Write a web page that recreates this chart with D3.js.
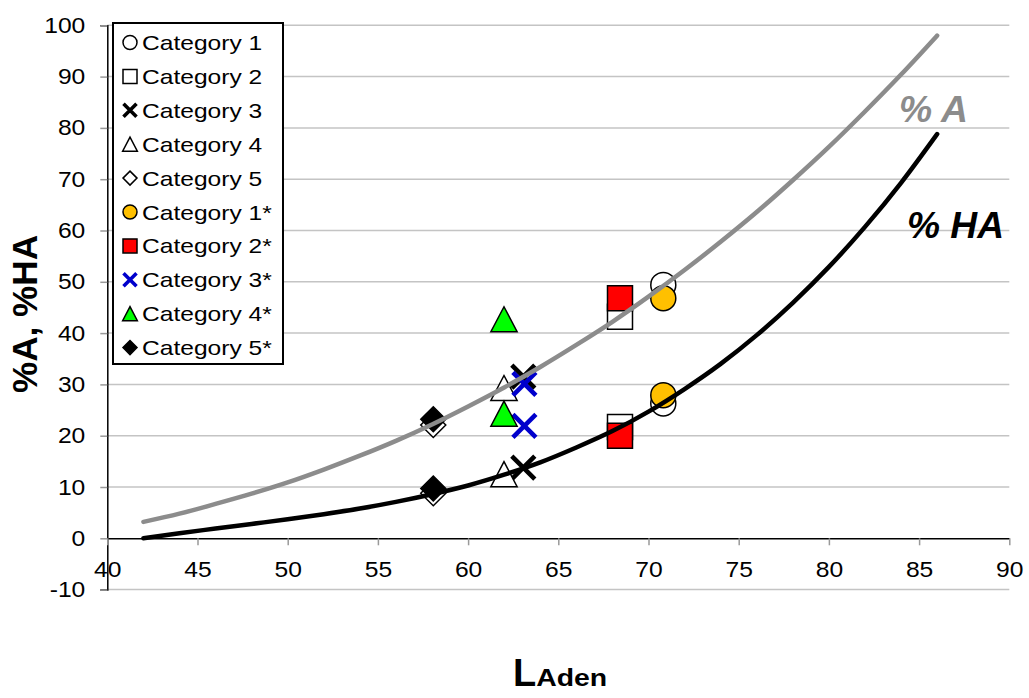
<!DOCTYPE html>
<html>
<head>
<meta charset="utf-8">
<script src="https://cdn.jsdelivr.net/npm/d3@7"></script>
<style>
  body { margin: 0; background: #fff; }
  text { font-family: Arial, "Liberation Sans", sans-serif; }
</style>
</head>
<body>
<div id="chart"></div>
<script>
// categories and their measured points (x = L, a = upper point, ha = lower point)
const categories = ["Category 1", "Category 2", "Category 3", "Category 4", "Category 5",
  "Category 1*", "Category 2*", "Category 3*", "Category 4*", "Category 5*"];
const pointL  = [70.82, 68.42, 63.06, 61.99, 58.07, 70.82, 68.42, 63.12, 61.99, 58.07];
const pointA  = [49.4, 43.2, 31.5, 29.3, 22.1, 46.8, 46.8, 30.1, 42.7, 23.2];
const pointHA = [26.3, 21.7, 13.8, 12.5, 8.8, 27.9, 20.0, 21.9, 24.3, 9.7];

// curve readings
const curveL  = [42, 44, 46, 48, 50, 52, 54, 56, 58, 60, 62, 64, 66, 68, 70, 72, 74, 76, 78, 80, 82, 84, 86];
const curveA  = [3.2, 4.8, 6.7, 8.7, 10.9, 13.4, 16.1, 19.0, 22.2, 25.7, 29.4, 33.4, 37.7, 42.2, 47.1, 52.3, 57.8, 63.6, 69.8, 76.3, 83.2, 90.4, 98.0];
const curveHA = [0, 1.0, 1.9, 2.8, 3.7, 4.7, 5.8, 7.1, 8.6, 10.3, 12.4, 14.8, 17.7, 20.9, 24.7, 29.1, 34.0, 39.6, 45.9, 52.9, 60.7, 69.3, 78.8];

const xTicks = [40, 45, 50, 55, 60, 65, 70, 75, 80, 85, 90];
const yTicks = [-10, 0, 10, 20, 30, 40, 50, 60, 70, 80, 90, 100];

const width = 1029, height = 698;

const svg = d3.select("#chart").append("svg")
  .attr("width", width)
  .attr("height", height);

const x = d3.scaleLinear().domain([40, 90]).range([107.3, 1009.3]);
const y = d3.scaleLinear().domain([-10, 100]).range([589.6, 25.3]);

// the reference text is a little wider than plain Arial
function stretch(sel, k) {
  sel.each(function () {
    const w = this.getComputedTextLength();
    d3.select(this).attr("textLength", w * k).attr("lengthAdjust", "spacingAndGlyphs");
  });
}

// marker shapes, size = full width in px
const shapes = {
  circle: {draw(ctx, s) { const r = s / 2; ctx.moveTo(r, 0); ctx.arc(0, 0, r, 0, 2 * Math.PI); }},
  square: {draw(ctx, s) { const h = s / 2; ctx.rect(-h, -h, s, s); }},
  cross: {draw(ctx, s) { const h = s / 2; ctx.moveTo(-h, -h); ctx.lineTo(h, h); ctx.moveTo(h, -h); ctx.lineTo(-h, h); }},
  triangle: {draw(ctx, s) { const h = s / 2; ctx.moveTo(0, -h); ctx.lineTo(h * 1.05, h); ctx.lineTo(-h * 1.05, h); ctx.closePath(); }},
  diamond: {draw(ctx, s) { const h = s / 2; ctx.moveTo(0, -h); ctx.lineTo(h, 0); ctx.lineTo(0, h); ctx.lineTo(-h, 0); ctx.closePath(); }}
};
const catShape = ["circle", "square", "cross", "triangle", "diamond",
  "circle", "square", "cross", "triangle", "diamond"];
const catFill = ["#fff", "#fff", "none", "#fff", "#fff", "#ffc000", "#ff0000", "none", "#00ff00", "#000"];
const catStroke = ["#000", "#000", "#000", "#000", "#000", "#000", "#000", "#0000cc", "#000", "#000"];

function drawMarker(g, i, size, crossWidth) {
  const crossLike = catShape[i] === "cross";
  g.append("path")
    .attr("d", d3.symbol().type(shapes[catShape[i]]).size(size)())
    .attr("fill", catFill[i])
    .attr("stroke", catStroke[i])
    .attr("stroke-width", crossLike ? crossWidth : 1.5);
}

// gridlines
svg.append("g")
  .selectAll("line")
  .data(yTicks.filter(d => d !== 0))
  .enter().append("line")
  .attr("x1", x(40)).attr("x2", x(90))
  .attr("y1", d => y(d)).attr("y2", d => y(d))
  .attr("stroke", "#c4c4c4")
  .attr("stroke-width", 1.5);

// y axis
const yAxis = svg.append("g")
  .attr("transform", `translate(${x(40)},0)`)
  .call(d3.axisLeft(y).tickValues(yTicks).tickFormat(d => String(d)).tickSize(7).tickPadding(15));
yAxis.select(".domain").attr("stroke", "#000").attr("stroke-width", 1.5);
yAxis.selectAll(".tick line").attr("stroke", "#999").attr("stroke-width", 1.5);
yAxis.selectAll(".tick text").attr("font-size", "22px").attr("fill", "#000")
  .attr("font-family", "Arial, 'Liberation Sans', sans-serif")
  .call(stretch, 1.12);

// x axis at y = 0
const xAxis = svg.append("g")
  .attr("transform", `translate(0,${y(0)})`)
  .call(d3.axisBottom(x).tickValues(xTicks).tickFormat(d => String(d)).tickSize(7).tickSizeOuter(0).tickPadding(16));
xAxis.select(".domain").attr("stroke", "#000").attr("stroke-width", 1.5);
xAxis.selectAll(".tick line").attr("stroke", "#999").attr("stroke-width", 1.5);
xAxis.selectAll(".tick text").attr("font-size", "22px").attr("fill", "#000")
  .attr("font-family", "Arial, 'Liberation Sans', sans-serif")
  .call(stretch, 1.12);

// data markers
const markers = svg.append("g");
categories.forEach(function (c, i) {
  [pointA[i], pointHA[i]].forEach(function (v) {
    const g = markers.append("g").attr("transform", `translate(${x(pointL[i])},${y(v)})`);
    drawMarker(g, i, catShape[i] === "cross" ? 23 : 25, 4.6);
  });
});

// curves
const line = d3.line().x(d => x(d[0])).y(d => y(d[1])).curve(d3.curveMonotoneX);
svg.append("path")
  .datum(d3.zip(curveL, curveA))
  .attr("d", line)
  .attr("fill", "none")
  .attr("stroke", "#8c8c8c")
  .attr("stroke-width", 4.5)
  .attr("stroke-linecap", "round");
svg.append("path")
  .datum(d3.zip(curveL, curveHA))
  .attr("d", line)
  .attr("fill", "none")
  .attr("stroke", "#000")
  .attr("stroke-width", 4.5)
  .attr("stroke-linecap", "round");

// curve labels
svg.append("text")
  .attr("x", 899).attr("y", 122)
  .attr("font-size", "36px").attr("font-weight", "bold").attr("font-style", "italic")
  .attr("fill", "#8c8c8c")
  .text("% A")
  .attr("textLength", 69).attr("lengthAdjust", "spacingAndGlyphs");
svg.append("text")
  .attr("x", 907).attr("y", 238)
  .attr("font-size", "36px").attr("font-weight", "bold").attr("font-style", "italic")
  .attr("fill", "#000")
  .text("% HA")
  .attr("textLength", 97).attr("lengthAdjust", "spacingAndGlyphs");

// legend
const legend = svg.append("g").attr("transform", "translate(113,23)");
legend.append("rect")
  .attr("width", 170).attr("height", 341)
  .attr("fill", "#fff")
  .attr("stroke", "#000")
  .attr("stroke-width", 2);
categories.forEach(function (c, i) {
  const row = legend.append("g").attr("transform", `translate(0,${27 + i * 33.9})`);
  const m = row.append("g").attr("transform", "translate(17,-7.5)");
  drawMarker(m, i, catShape[i] === "cross" ? 13 : 14, 3.6);
  row.append("text")
    .attr("x", 29).attr("y", 0)
    .attr("font-size", "21px")
    .attr("fill", "#000")
    .text(c)
    .call(stretch, 1.17);
});

// axis titles
svg.append("text")
  .attr("transform", "translate(37,314) rotate(-90)")
  .attr("text-anchor", "middle")
  .attr("font-size", "35px").attr("font-weight", "bold")
  .text("%A, %HA")
  .attr("textLength", 158).attr("lengthAdjust", "spacingAndGlyphs");

const xt = svg.append("text")
  .attr("x", 513).attr("y", 686)
  .attr("font-weight", "bold");
xt.append("tspan").attr("font-size", "38px").text("L");
xt.append("tspan").attr("font-size", "23px").text("Aden")
  .attr("textLength", 71).attr("lengthAdjust", "spacingAndGlyphs");
</script>
</body>
</html>
